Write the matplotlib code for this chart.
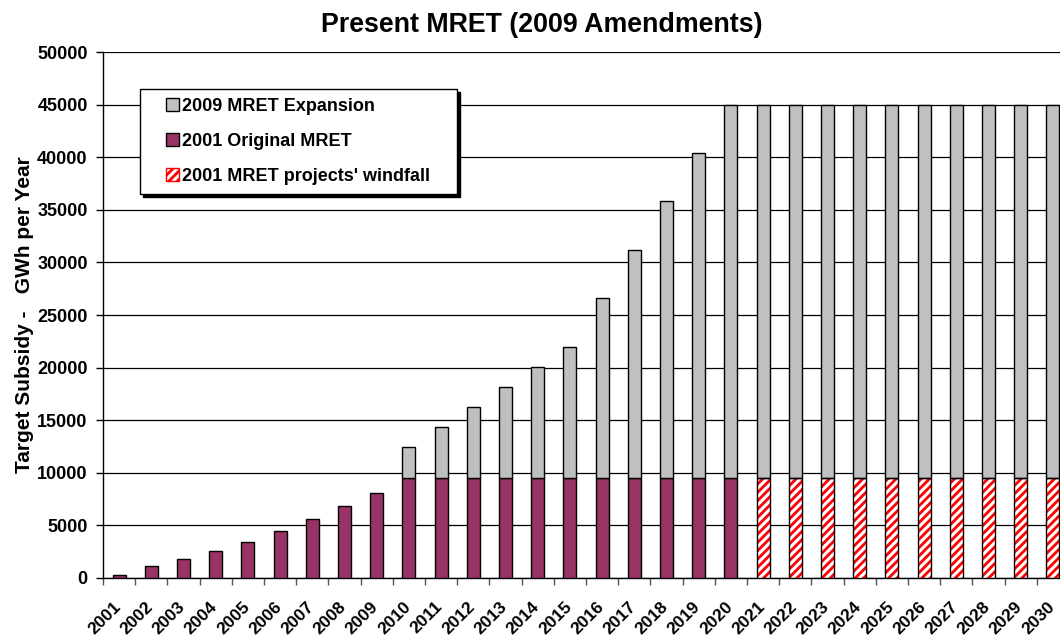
import matplotlib
matplotlib.use("Agg")
import matplotlib.pyplot as plt
import matplotlib.transforms as mtransforms
import numpy as np
from matplotlib.patches import Patch, Rectangle
from matplotlib.legend_handler import HandlerPatch

# data (GWh per year)
years = [str(y) for y in range(2001, 2031)]
original_mret = [300, 1100, 1800, 2600, 3400, 4500, 5600, 6800, 8100, 9500,
                 9500, 9500, 9500, 9500, 9500, 9500, 9500, 9500, 9500, 9500,
                 0, 0, 0, 0, 0, 0, 0, 0, 0, 0]
windfall = [0, 0, 0, 0, 0, 0, 0, 0, 0, 0,
            0, 0, 0, 0, 0, 0, 0, 0, 0, 0,
            9500, 9500, 9500, 9500, 9500, 9500, 9500, 9500, 9500, 9500]
expansion = [0, 0, 0, 0, 0, 0, 0, 0, 0, 3000,
             4900, 6800, 8700, 10600, 12500, 17100, 21700, 26300, 30900, 35500,
             35500, 35500, 35500, 35500, 35500, 35500, 35500, 35500, 35500, 35500]
yticks = np.arange(0, 50001, 5000)

maroon = "#993366"
grey = "#C0C0C0"

plt.rcParams["font.family"] = ["Liberation Sans", "DejaVu Sans"]
plt.rcParams["font.weight"] = "bold"
plt.rcParams["hatch.linewidth"] = 2.0

fig = plt.figure(figsize=(10.6, 6.37), dpi=100)
# axes runs past the right edge like the original
ax = fig.add_axes([103 / 1060, 59 / 637, 966 / 1060, 526 / 637])

x = np.arange(len(years))
w = 0.4
base = np.array(original_mret) + np.array(windfall)

ax.bar(x, original_mret, w, color=maroon, edgecolor="black", linewidth=1, zorder=3)
# hatched part: red hatch, then a black outline on top
mask = np.array(windfall) > 0
ax.bar(x[mask], np.array(windfall)[mask], w, color="white", edgecolor="red",
       hatch="////", linewidth=0, zorder=3)
ax.bar(x[mask], np.array(windfall)[mask], w, fill=False, edgecolor="black",
       linewidth=1, zorder=4)
emask = np.array(expansion) > 0
ax.bar(x[emask], np.array(expansion)[emask], w, bottom=base[emask], color=grey,
       edgecolor="black", linewidth=1, zorder=3)

ax.set_xlim(-0.5, len(years) - 0.5)
ax.set_ylim(0, 50000)
ax.set_yticks(yticks)
ax.set_yticklabels([str(v) for v in yticks], fontsize=13, fontweight="bold")
ax.yaxis.grid(True, color="black", linewidth=0.9)
ax.set_axisbelow(True)

ax.set_xticks(x)
ax.set_xticklabels(years, rotation=45, ha="right", rotation_mode="anchor",
                   fontsize=12.5, fontweight="bold")
ax.set_xticks(np.arange(-0.5, len(years), 1), minor=True)
ax.tick_params(axis="x", which="major", length=0, pad=15)
ax.tick_params(axis="x", which="minor", length=5, width=1, color="#555555")
ax.tick_params(axis="y", length=5, width=1, pad=6)

for s in ["top", "right"]:
    ax.spines[s].set_visible(False)
ax.spines["left"].set_linewidth(1)
ax.spines["bottom"].set_linewidth(1)

ax.set_ylabel("Target Subsidy -   GWh per Year", fontsize=15, fontweight="bold",
              labelpad=2)
fig.text(542 / 1060, 1 - 32 / 637, "Present MRET (2009 Amendments)", ha="center",
         va="baseline", fontsize=19.3, fontweight="bold")


def square(legend, orig_handle, xdescent, ydescent, width, height, fontsize):
    side = 0.72 * fontsize
    return Rectangle((width - side - xdescent, (height - side) / 2 - ydescent),
                     side, side)


handles = [Patch(facecolor=grey, edgecolor="black"),
           Patch(facecolor=maroon, edgecolor="black"),
           Patch(facecolor="white", edgecolor="red", hatch="////")]
labels = ["2009 MRET Expansion", "2001 Original MRET", "2001 MRET projects' windfall"]
hmap = {h: HandlerPatch(patch_func=square) for h in handles}
leg_top = (578 - 89) / 526
leg = ax.legend(handles, labels, loc="upper left",
                bbox_to_anchor=(37 / 966, leg_top - 0.01, 317 / 966, 0.01),
                mode="expand", borderaxespad=0, fancybox=False,
                shadow={"color": "black", "alpha": 1}, handler_map=hmap,
                handlelength=1.65, handletextpad=0.17, labelspacing=1.0,
                borderpad=0.5, prop={"size": 13, "weight": "bold"},
                framealpha=1, edgecolor="black")
leg.get_frame().set_linewidth(1)
leg.set_zorder(10)

# nudge the rotated year labels a little left, as in the original
shift = mtransforms.ScaledTranslation(-6 / 100, 0, fig.dpi_scale_trans)
for lab in ax.get_xticklabels():
    lab.set_transform(lab.get_transform() + shift)

fig.savefig("out.png", dpi=100)
